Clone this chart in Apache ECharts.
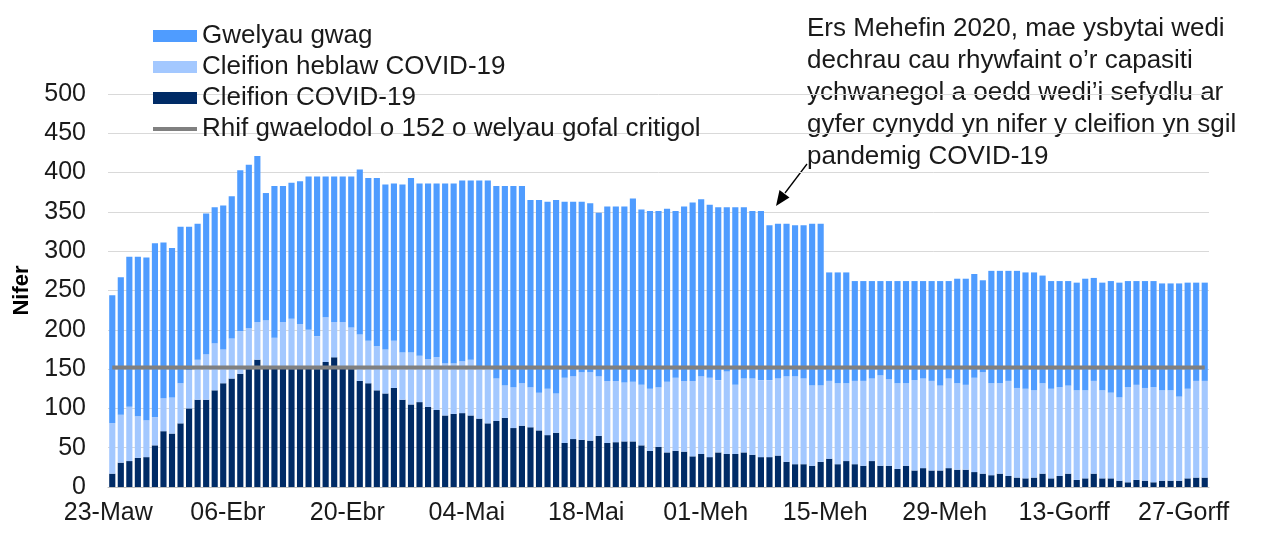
<!DOCTYPE html>
<html>
<head>
<meta charset="utf-8">
<title>Gwelyau gofal critigol</title>
<script src="https://cdn.jsdelivr.net/npm/echarts@6/dist/echarts.min.js"></script>
<style>
  *{ margin:0; padding:0; }
  body{ background:#fff; }
  #chart{ width:1270px; height:533px; }
</style>
</head>
<body>
<div id="chart"></div>
<script>
// misoedd (Cymraeg) a nifer y diwrnodau ym mhob un, 23 Maw - 29 Gorff 2020
var monthNames = ['Maw', 'Ebr', 'Mai', 'Meh', 'Gorff'];
var monthDays = [31, 30, 31, 30, 29];
var firstDay = 23;

// Cleifion COVID-19
var covid = [17,31,33,37,38,53,71,68,81,100,111,111,123,132,138,144,150,162,153,152,
  152,150,151,152,150,159,165,152,150,135,132,123,119,126,111,105,108,102,98,91,
  93,94,91,87,81,84,88,75,78,76,72,66,69,56,61,60,59,65,56,57,
  58,58,53,46,51,44,46,45,39,42,38,44,42,42,44,41,38,38,40,32,
  29,29,27,32,36,29,33,29,27,33,27,27,23,27,21,24,21,21,24,22,
  22,19,17,15,17,14,12,11,12,17,11,14,17,9,11,17,11,11,8,6,
  9,8,6,8,8,8,11,12,12];

// Cleifion heblaw COVID-19
var nonCovid = [64,61,69,53,47,36,42,46,51,49,51,58,60,43,51,54,52,48,59,38,
  58,64,56,48,42,57,45,58,53,59,54,56,56,60,60,66,59,61,67,66,
  64,66,71,66,72,54,41,52,54,51,48,59,50,83,80,86,87,76,79,78,
  75,76,77,79,76,90,93,90,96,99,101,92,105,88,94,97,98,98,98,109,
  112,109,102,97,99,103,99,106,108,105,115,110,109,105,115,114,114,108,114,110,
  108,120,129,117,115,121,114,114,111,115,114,113,112,114,112,118,112,109,106,121,
  121,118,121,115,115,107,114,123,123];

// Gwelyau gwag
var empty = [163,175,191,203,207,221,198,190,199,182,173,179,173,183,181,205,208,211,162,193,
  173,173,182,195,203,179,185,185,192,210,207,214,210,200,214,222,219,223,221,229,
  229,230,228,237,237,245,254,256,251,238,245,238,246,224,222,217,215,208,222,222,
  224,233,223,226,224,220,212,222,227,225,220,220,209,226,218,213,215,197,197,194,
  192,195,206,206,138,141,141,127,127,124,120,125,130,130,126,124,127,133,124,133,
  135,132,117,143,143,140,149,148,150,137,137,135,133,137,142,131,137,142,146,135,
  132,136,135,136,136,144,135,125,125];

var baseline = 152;

var dates = [];
for (var m = 0; m < monthNames.length; m++) {
  var start = (m === 0) ? firstDay : 1;
  for (var d = start; d <= monthDays[m]; d++) {
    dates.push((d < 10 ? '0' + d : '' + d) + '-' + monthNames[m]);
  }
}
var baselineLine = dates.map(function () { return baseline; });

var font = 'Liberation Sans, Arial, sans-serif';
var chart = echarts.init(document.getElementById('chart'), null, { renderer: 'canvas' });

var option = {
  animation: false,
  backgroundColor: '#ffffff',
  textStyle: { fontFamily: font },
  grid: { left: 108, right: 61, top: 94, bottom: 46 },
  legend: {
    orient: 'vertical',
    left: 153,
    top: 23,
    padding: 0,
    itemWidth: 44,
    itemHeight: 12,
    itemGap: 5,
    textStyle: { fontSize: 26, lineHeight: 25, color: '#1a1a1a', fontFamily: font },
    data: [
      { name: 'Gwelyau gwag', icon: 'rect' },
      { name: 'Cleifion heblaw COVID-19', icon: 'rect' },
      { name: 'Cleifion COVID-19', icon: 'rect' },
      { name: 'Rhif gwaelodol o 152 o welyau gofal critigol', icon: 'path://M0,0 L44,0 L44,4 L0,4 Z' }
    ]
  },
  xAxis: {
    type: 'category',
    data: dates,
    boundaryGap: true,
    axisLine: { lineStyle: { color: '#bfbfbf', width: 1 } },
    axisTick: { interval: 13, length: 6, lineStyle: { color: '#bfbfbf' } },
    axisLabel: {
      interval: 13,
      fontSize: 25,
      color: '#1a1a1a',
      margin: 14,
      padding: [0, 8, 0, 0]
    },
    splitLine: { show: false }
  },
  yAxis: {
    type: 'value',
    min: 0,
    max: 500,
    interval: 50,
    name: 'Nifer',
    nameLocation: 'middle',
    nameGap: 72,
    nameTextStyle: { fontSize: 22, fontWeight: 'bold', color: '#000' },
    axisLine: { show: false },
    axisTick: { show: false },
    axisLabel: { fontSize: 25, color: '#1a1a1a', margin: 22 },
    splitLine: { lineStyle: { color: '#d9d9d9', width: 1 } }
  },
  series: [
    {
      name: 'Cleifion COVID-19',
      type: 'bar',
      stack: 'beds',
      data: covid,
      barCategoryGap: '28%',
      itemStyle: { color: '#002b66' }
    },
    {
      name: 'Cleifion heblaw COVID-19',
      type: 'bar',
      stack: 'beds',
      data: nonCovid,
      itemStyle: { color: '#a3c8ff' }
    },
    {
      name: 'Gwelyau gwag',
      type: 'bar',
      stack: 'beds',
      data: empty,
      itemStyle: { color: '#4f9cff' }
    },
    {
      name: 'Rhif gwaelodol o 152 o welyau gofal critigol',
      type: 'line',
      data: baselineLine,
      symbol: 'none',
      z: 5,
      lineStyle: { color: '#808080', width: 4 },
      itemStyle: { color: '#808080' }
    }
  ],
  graphic: [
    {
      type: 'text',
      left: 807,
      top: 13,
      style: {
        text: 'Ers Mehefin 2020, mae ysbytai wedi\n' +
              'dechrau cau rhywfaint o\u2019r capasiti\n' +
              'ychwanegol a oedd wedi\u2019i sefydlu ar\n' +
              'gyfer cynydd yn nifer y cleifion yn sgil\n' +
              'pandemig COVID-19',
        font: '26px ' + font,
        lineHeight: 32,
        fill: '#1a1a1a'
      }
    },
    {
      type: 'line',
      shape: { x1: 807, y1: 164, x2: 785, y2: 193 },
      style: { stroke: '#000', lineWidth: 1.3 }
    },
    {
      type: 'polygon',
      shape: { points: [[776, 206], [789.5, 197.5], [779.5, 190]] },
      style: { fill: '#000' }
    }
  ]
};

chart.setOption(option);
</script>
</body>
</html>
